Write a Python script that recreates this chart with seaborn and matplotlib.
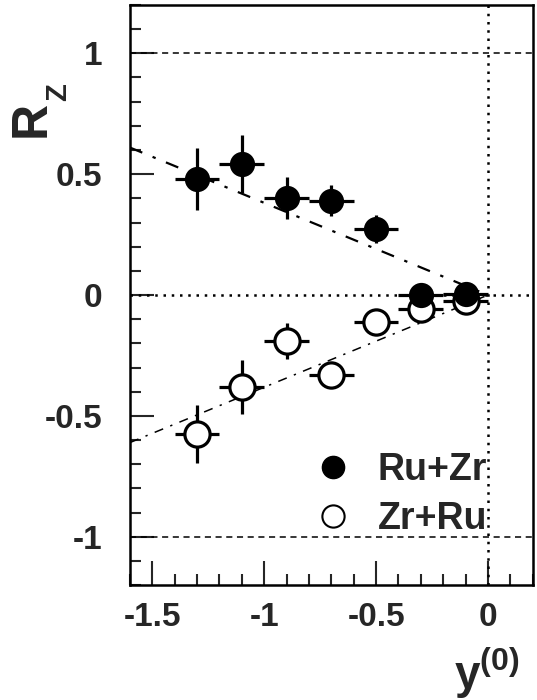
import numpy as np
import pandas as pd
import matplotlib
matplotlib.use("Agg")
import matplotlib.pyplot as plt
from matplotlib.lines import Line2D
from matplotlib.ticker import MultipleLocator
import seaborn as sns

# === DATA ===
y0 = [-1.3, -1.1, -0.9, -0.7, -0.5, -0.3, -0.1]
xerr = [0.1, 0.1, 0.1, 0.1, 0.1, 0.1, 0.1]

rz_ruzr = [0.48, 0.54, 0.40, 0.39, 0.275, 0.0, 0.005]
err_ruzr = [0.13, 0.12, 0.087, 0.065, 0.058, 0.04, 0.03]

rz_zrru = [-0.576, -0.38, -0.19, -0.33, -0.11, -0.057, -0.025]
err_zrru = [0.12, 0.11, 0.075, 0.05, 0.04, 0.04, 0.03]

# dash-dot reference lines (endpoints)
line_x = [-1.6, 0.0]
line_up = [0.61, 0.0]
line_down = [-0.61, 0.0]

sns.set_style("ticks")
plt.rcParams["font.family"] = ["Liberation Sans", "DejaVu Sans"]
plt.rcParams["font.weight"] = "bold"
plt.rcParams["mathtext.fontset"] = "custom"
plt.rcParams["mathtext.rm"] = "Liberation Sans"
plt.rcParams["mathtext.bf"] = "Liberation Sans:bold"
plt.rcParams["mathtext.it"] = "Liberation Sans:italic"

fig = plt.figure(figsize=(5.37, 7.00), dpi=100)
ax = fig.add_axes([0.242, 0.164, 0.750, 0.829])

# reference lines
ax.axhline(1, color="black", ls=(0, (4, 3)), lw=1.1, zorder=1)
ax.axhline(-1, color="black", ls=(0, (4, 3)), lw=1.1, zorder=1)
ax.axhline(0, color="black", ls=(0, (1, 2.3)), lw=1.8, zorder=1)
ax.axvline(0, color="black", ls=(0, (1, 2.3)), lw=1.8, zorder=1)
ax.plot(line_x, line_up, color="black", lw=1.6, ls=(0, (6, 5, 1.5, 5)), zorder=1)
ax.plot(line_x, line_down, color="black", lw=1.1, ls=(0, (6, 5, 1.5, 5)), zorder=1)

# error bars
ax.errorbar(y0, rz_ruzr, xerr=xerr, yerr=err_ruzr, fmt="none",
            ecolor="black", elinewidth=2.3, capsize=0, zorder=2)
ax.errorbar(y0, rz_zrru, xerr=xerr, yerr=err_zrru, fmt="none",
            ecolor="black", elinewidth=2.3, capsize=0, zorder=2)

df_full = pd.DataFrame({"y0": y0, "rz": rz_ruzr})
df_open = pd.DataFrame({"y0": y0, "rz": rz_zrru})
sns.scatterplot(data=df_open, x="y0", y="rz", ax=ax, s=330, marker="o",
                facecolor="white", edgecolor="black", linewidth=2.3, zorder=3)
sns.scatterplot(data=df_full, x="y0", y="rz", ax=ax, s=330, marker="o",
                color="black", edgecolor="black", linewidth=0, zorder=4)

ax.set_xlim(-1.6, 0.2)
ax.set_ylim(-1.2, 1.2)
ax.xaxis.set_minor_locator(MultipleLocator(0.1))
ax.yaxis.set_minor_locator(MultipleLocator(0.1))
ax.set_xticks([-1.5, -1, -0.5, 0])
ax.set_xticklabels(["-1.5", "-1", "-0.5", "0"])
ax.set_yticks([-1, -0.5, 0, 0.5, 1])
ax.set_yticklabels(["-1", "-0.5", "0", "0.5", "1"])
ax.tick_params(which="major", direction="in", length=17, width=1.5,
               labelsize=24)
ax.tick_params(axis="y", pad=20)
ax.tick_params(axis="x", pad=12)
ax.tick_params(which="minor", direction="in", length=8, width=1.5)
ax.tick_params(top=False, right=False, which="both")
for s in ax.spines.values():
    s.set_linewidth(1.8)
    s.set_color("black")

ax.set_xlabel("")
ax.set_ylabel("")
fig.text(0.907, 0.016, r"$\mathbf{y^{(0)}}$", fontsize=33, ha="center",
         va="baseline")
# axis title R_Z, drawn as two rotated pieces
fig.text(0.058, 0.830, "R", fontsize=36, ha="center", va="center", rotation=90)
fig.text(0.109, 0.868, "Z", fontsize=21, ha="center", va="center", rotation=90)

handles = [
    Line2D([], [], ls="none", marker="o", markersize=16, color="black"),
    Line2D([], [], ls="none", marker="o", markersize=16, mfc="white",
           mec="black", mew=1.5),
]
ax.legend(handles, ["Ru+Zr", "Zr+Ru"], loc="upper left",
          bbox_to_anchor=(0.41, 0.229), frameon=False,
          prop={"size": 27, "weight": "bold"}, handlelength=2.0,
          handletextpad=0.2, labelspacing=0.35, borderaxespad=0, borderpad=0)

fig.savefig("out.png", dpi=100)
